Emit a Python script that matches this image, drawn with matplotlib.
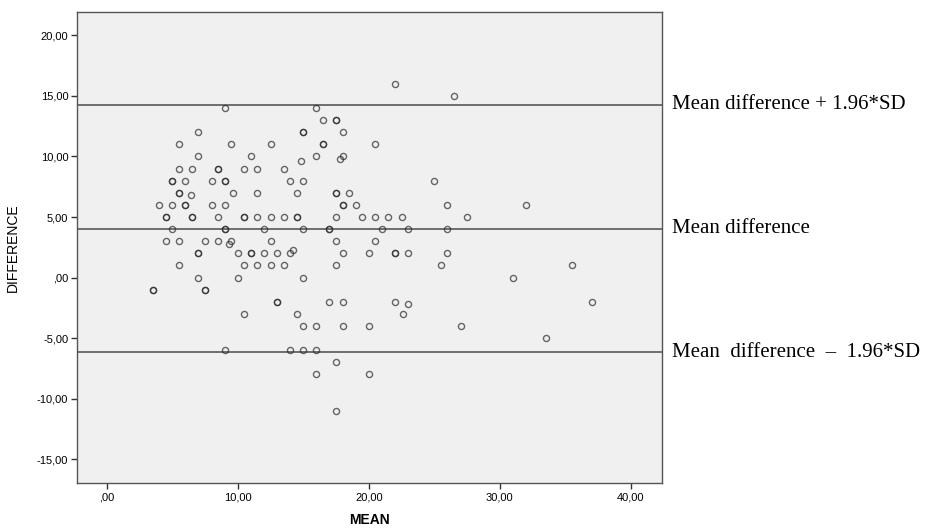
import matplotlib
matplotlib.use("Agg")
import matplotlib.pyplot as plt
import matplotlib.transforms as mtransforms
from matplotlib.ticker import FuncFormatter

# mean of the two measurements (x) and their difference (y)
mean_vals = [
    22, 26.5, 9, 16, 16.5, 17.5, 17.5, 7, 15, 15, 18,
    5.5, 9.5, 12.5, 16.5, 16.5, 20.5, 7, 11, 16, 18, 17.8, 14.85,
    5.5, 6.5, 8.5, 8.5, 10.5, 11.5, 13.5,
    5, 5, 6, 8, 9, 9, 14, 15, 25,
    5.5, 5.5, 6.4, 9.6, 11.5, 14.5, 17.5, 17.5, 18.5,
    4, 5, 6, 6, 8, 9, 18, 18, 19, 26, 32,
    4.5, 4.5, 6.5, 6.5, 8.5, 10.5, 10.5, 11.5, 12.5, 13.5, 14.5, 14.5,
    17.5, 19.5, 20.5, 21.5, 22.5, 27.5,
    5, 9, 9, 12, 15, 17, 17, 21, 23, 26,
    4.5, 5.5, 7.5, 8.5, 9.5, 9.3, 12.5, 17.5, 20.5,
    7, 7, 10, 11, 11, 12, 13, 14, 14.2, 18, 20, 22, 22, 23, 26,
    5.5, 10.5, 11.5, 12.5, 13.5, 17.5, 25.5, 35.5,
    7, 10, 15, 31,
    3.5, 3.5, 7.5, 7.5,
    13, 13, 17, 18, 22, 23, 37,
    10.5, 14.5, 22.6,
    15, 16, 18, 20, 27,
    33.5,
    9, 14, 15, 16,
    17.5,
    16, 20,
    17.5,
]
diff_vals = [
    16, 15, 14, 14, 13, 13, 13, 12, 12, 12, 12,
    11, 11, 11, 11, 11, 11, 10, 10, 10, 10, 9.8, 9.6,
    9, 9, 9, 9, 9, 9, 9,
    8, 8, 8, 8, 8, 8, 8, 8, 8,
    7, 7, 6.8, 7, 7, 7, 7, 7, 7,
    6, 6, 6, 6, 6, 6, 6, 6, 6, 6, 6,
    5, 5, 5, 5, 5, 5, 5, 5, 5, 5, 5, 5,
    5, 5, 5, 5, 5, 5,
    4, 4, 4, 4, 4, 4, 4, 4, 4, 4,
    3, 3, 3, 3, 3, 2.8, 3, 3, 3,
    2, 2, 2, 2, 2, 2, 2, 2, 2.3, 2, 2, 2, 2, 2, 2,
    1, 1, 1, 1, 1, 1, 1, 1,
    0, 0, 0, 0,
    -1, -1, -1, -1,
    -2, -2, -2, -2, -2, -2.2, -2,
    -3, -3, -3,
    -4, -4, -4, -4, -4,
    -5,
    -6, -6, -6, -6,
    -7,
    -8, -8,
    -11,
]

mean_diff = 4.05
upper_loa = 14.28
lower_loa = -6.18

x_ticks = [0, 10, 20, 30, 40]
y_ticks = [-15, -10, -5, 0, 5, 10, 15, 20]


def spss_fmt(v, pos=None):
    s = f"{v:.2f}".replace(".", ",")
    if s.startswith("0,"):
        s = s[1:]
    return s


fig = plt.figure(figsize=(9.33, 5.30), dpi=100)
ax = fig.add_axes([0.0829, 0.0887, 0.627, 0.888])
ax.set_facecolor("#f0f0f0")

for yv in (upper_loa, mean_diff, lower_loa):
    ax.axhline(yv, color="#6e6e6e", lw=1.4, zorder=1)

ax.plot(mean_vals, diff_vals, linestyle="none", marker="o", markersize=4.4,
        markerfacecolor="none", markeredgecolor="#2a2a2a", markeredgewidth=1.0,
        alpha=0.7, zorder=3)

ax.set_xlim(-2.24, 42.4)
ax.set_ylim(-16.96, 21.9)
ax.set_xticks(x_ticks)
ax.set_yticks(y_ticks)
ax.xaxis.set_major_formatter(FuncFormatter(spss_fmt))
ax.yaxis.set_major_formatter(FuncFormatter(spss_fmt))

for side in ("left", "bottom", "right", "top"):
    ax.spines[side].set_color("#555555")
    ax.spines[side].set_linewidth(1.0)
ax.tick_params(axis="both", direction="out", length=4.5, width=1.0,
               color="#333333", labelsize=8, pad=2,
               labelfontfamily="Liberation Sans")

ax.set_xlabel("MEAN", fontsize=10, fontweight="bold",
              fontfamily="Liberation Sans", labelpad=8)
ax.set_ylabel("DIFFERENCE", fontsize=10, fontfamily="Liberation Sans",
              labelpad=12)

trans = mtransforms.blended_transform_factory(ax.transAxes, ax.transData)
lbl_x = 1.0166
ax.text(lbl_x, upper_loa, "Mean difference + 1.96*SD", transform=trans,
        ha="left", va="center", fontsize=15, fontfamily="Liberation Serif",
        clip_on=False)
ax.text(lbl_x, mean_diff, "Mean difference", transform=trans,
        ha="left", va="center", fontsize=15, fontfamily="Liberation Serif",
        clip_on=False)
ax.text(lbl_x, lower_loa, "Mean  difference  \u2013  1.96*SD", transform=trans,
        ha="left", va="center", fontsize=15, fontfamily="Liberation Serif",
        clip_on=False)

fig.savefig("out.png", dpi=100)
